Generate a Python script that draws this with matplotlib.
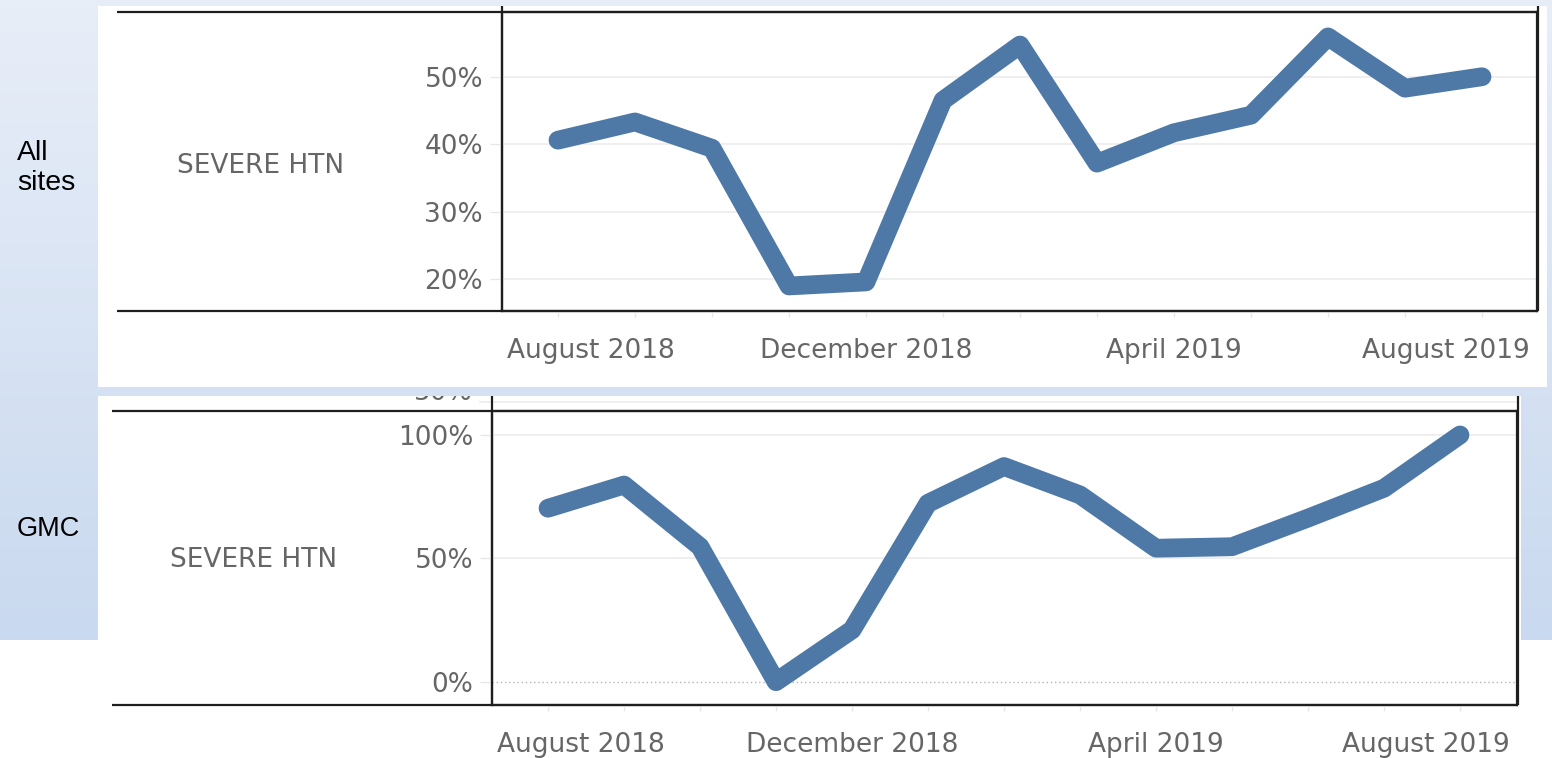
import matplotlib
matplotlib.use("Agg")
import matplotlib.pyplot as plt
import matplotlib.transforms as mtransforms
from matplotlib.patches import Rectangle
from matplotlib.colors import LinearSegmentedColormap
from matplotlib.ticker import FixedLocator, FuncFormatter
import numpy as np

# ---------------- data ----------------
months = ["Aug 2018", "Sep 2018", "Oct 2018", "Nov 2018", "Dec 2018", "Jan 2019",
          "Feb 2019", "Mar 2019", "Apr 2019", "May 2019", "Jun 2019", "Jul 2019",
          "Aug 2019"]
label_positions = [0, 4, 8, 12]
label_texts = ["August 2018", "December 2018", "April 2019", "August 2019"]

all_sites = [40.6, 43.3, 39.4, 19.0, 19.6, 46.5, 54.7, 37.2, 41.7, 44.3, 55.9, 48.3, 50.0]
gmc = [70.3, 79.7, 54.7, 0.0, 21.0, 72.3, 87.2, 75.7, 54.1, 54.7, 66.3, 78.4, 100.0]

row_labels = ["All\nsites", "GMC"]
measure_label = "SEVERE HTN"
top_yticks = [20, 30, 40, 50]
bot_yticks = [0, 50, 100]

# ---------------- style ----------------
W, H = 1552, 758
LINE_COLOR = "#4E79A7"
TEXT_GRAY = "#666666"
GRID = "#ececec"
TICK = "#e6e6e6"
BORDER = "#1e1e1e"
TFONT = 19

fig = plt.figure(figsize=(W / 100, H / 100), dpi=100)

# background slide
bg = fig.add_axes([0, 0, 1, 1])
bg.set_xlim(0, W)
bg.set_ylim(H, 0)
bg.axis("off")
cmap = LinearSegmentedColormap.from_list("slide", ["#E8EEF8", "#C9D9EF"])
grad = np.linspace(0, 1, 256).reshape(-1, 1)
bg.imshow(grad, cmap=cmap, extent=[0, W, 640, 0], aspect="auto", zorder=0)
bg.add_patch(Rectangle((0, 640), W, H - 640, fc="white", ec="none", zorder=0.5))

# white screenshot panels
bg.add_patch(Rectangle((98, 6), 1449, 381, fc="white", ec="none", zorder=1))
bg.add_patch(Rectangle((98, 396), 1423, 362, fc="white", ec="none", zorder=1))

# clipped remnants above the second panel (only the bottom of the glyphs shows)
bg.plot([480, 1517], [402, 402], color=GRID, lw=1.2, zorder=1.5)
t = bg.text(473, 400, "50%", ha="right", va="baseline", fontsize=TFONT,
            color=TEXT_GRAY, zorder=1.5)
t.set_clip_path(None)
t.set_clip_box(mtransforms.Bbox([[380, H - 410], [480, H - 396]]))
t.set_clip_on(True)

# panel frame extensions (row header area and top stubs)
lw_b = 1.6
for (xl, xa, xr, yt, yb, ytop) in [(117, 502, 1538, 12, 311, 6),
                                    (112, 492, 1518, 411, 705, 396)]:
    bg.plot([xl, xr], [yt, yt], color=BORDER, lw=lw_b, zorder=2, solid_capstyle="butt")
    bg.plot([xl, xr], [yb, yb], color=BORDER, lw=lw_b, zorder=2, solid_capstyle="butt")
    bg.plot([xa, xa], [ytop, yb], color=BORDER, lw=lw_b, zorder=2, solid_capstyle="butt")
    bg.plot([xr, xr], [ytop, yb], color=BORDER, lw=lw_b, zorder=2, solid_capstyle="butt")

# row labels (slide text)
bg.text(17, 190, row_labels[0], ha="left", va="baseline", fontsize=20.5,
        family="Liberation Sans", color="black", zorder=3, linespacing=1.18)
bg.text(17, 536, row_labels[1], ha="left", va="baseline", fontsize=19.5,
        family="Liberation Sans", color="black", zorder=3)

# measure labels
bg.text(261, 173, measure_label, ha="center", va="baseline", fontsize=TFONT,
        color=TEXT_GRAY, zorder=3)
bg.text(254, 567, measure_label, ha="center", va="baseline", fontsize=TFONT,
        color=TEXT_GRAY, zorder=3)


def make_panel(px_box, xlim, ylim, values, yticks, zero_dotted=False):
    x0, y0, x1, y1 = px_box
    ax = fig.add_axes([x0 / W, 1 - y1 / H, (x1 - x0) / W, (y1 - y0) / H])
    ax.patch.set_alpha(0)
    ax.set_xlim(*xlim)
    ax.set_ylim(*ylim)
    for s in ax.spines.values():
        s.set_color(BORDER)
        s.set_linewidth(lw_b)
    x = np.arange(len(months))
    # gridlines
    for v in yticks:
        if zero_dotted and v == 0:
            ax.axhline(v, color="#b5b5b5", lw=1.0, ls=(0, (1, 2)), zorder=1)
        else:
            ax.axhline(v, color=GRID, lw=1.2, zorder=1)
    ax.plot(x, values, color=LINE_COLOR, lw=13.5, solid_capstyle="round",
            solid_joinstyle="round", zorder=3)
    ax.yaxis.set_major_locator(FixedLocator(yticks))
    ax.yaxis.set_major_formatter(FuncFormatter(lambda v, _: f"{v:.0f}%"))
    ax.set_xticks(x, minor=True)
    ax.set_xticks(label_positions)
    ax.set_xticklabels(label_texts)
    ax.tick_params(axis="y", which="both", length=8.6, width=0.9, color=TICK,
                   labelcolor=TEXT_GRAY, labelsize=TFONT, pad=5)
    ax.tick_params(axis="x", which="both", length=4.5, width=0.9, color=TICK,
                   labelcolor=TEXT_GRAY, labelsize=TFONT, pad=15)
    # keep first / last date labels inside the pane (Tableau behaviour)
    left_px = ax.transAxes.transform((0, 0))[0]
    right_px = ax.transAxes.transform((1, 0))[0]
    labs = ax.get_xticklabels()
    first_px = ax.transData.transform((label_positions[0], 0))[0]
    last_px = ax.transData.transform((label_positions[-1], 0))[0]
    labs[0].set_ha("left")
    labs[0].set_transform(labs[0].get_transform() +
                          mtransforms.Affine2D().translate(left_px + 5 - first_px, 0))
    labs[-1].set_ha("right")
    labs[-1].set_transform(labs[-1].get_transform() +
                           mtransforms.Affine2D().translate(right_px - 7 - last_px, 0))
    return ax


make_panel((502, 12, 1537, 311), (-0.727, 12.714), (15.29, 59.59), all_sites, top_yticks)
make_panel((492, 411, 1517, 705), (-0.737, 12.75), (-9.44, 109.7), gmc, bot_yticks,
           zero_dotted=True)

fig.savefig("out.png", dpi=100)
